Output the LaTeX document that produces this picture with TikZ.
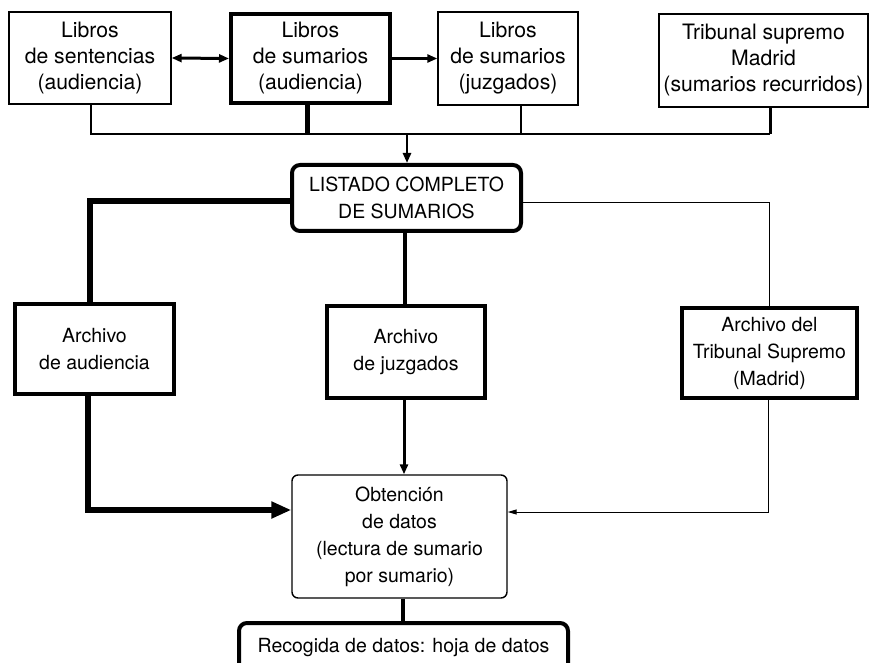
\documentclass[tikz,border=0pt]{standalone}
\usepackage{fontspec}
\setmainfont{TeX Gyre Heros}
\usetikzlibrary{arrows.meta}
\begin{document}
\begin{tikzpicture}[x=1pt,y=-1pt,
  txt/.style={align=center,font=\fontsize{19.5}{27}\selectfont,inner sep=0pt},
  toptxt/.style={font=\fontsize{21.2}{26}\selectfont},
  thinbox/.style={txt,draw,line width=1.4pt},
  thickbox/.style={txt,draw,line width=4pt},
  rthin/.style={thinbox,rounded corners=6pt},
  rthick/.style={thickbox,rounded corners=8pt},
  medarrow/.style={-{Triangle[length=10pt,width=8pt]}},
  bigarrow/.style={-{Triangle[length=20pt,width=16pt]}},
  smallarrow/.style={-{Triangle[length=9pt,width=5pt]}}
]
\useasboundingbox (0,0) rectangle (873,663);
% top row
\node[thinbox,toptxt,minimum width=162pt,minimum height=92pt] (B1) at (90,58) {Libros\\de sentencias\\(audiencia)};
\node[thickbox,toptxt,minimum width=159pt,minimum height=89pt] (B2) at (310.5,58.5) {Libros\\de sumarios\\(audiencia)};
\node[thinbox,toptxt,minimum width=140pt,minimum height=93pt] (B3) at (508,58.5) {Libros\\de sumarios\\(juzgados)};
\node[thinbox,toptxt,minimum width=209pt,minimum height=93pt] (B4) at (763.5,60.5) {Tribunal supremo\\Madrid\\(sumarios recurridos)};
% middle
\node[rthick,minimum width=229pt,minimum height=66pt] (L) at (406.5,198) {LISTADO COMPLETO\\DE SUMARIOS};
\node[thickbox,minimum width=159pt,minimum height=90pt] (AA) at (94.5,349) {Archivo\\de audiencia};
\node[thickbox,minimum width=158pt,minimum height=92pt] (AJ) at (406,352) {Archivo\\de juzgados};
\node[thickbox,minimum width=175pt,minimum height=90pt] (TS) at (769.5,353) {Archivo del\\Tribunal Supremo\\(Madrid)};
% bottom
\node[rthin,minimum width=215pt,minimum height=123pt] (O) at (399.5,536.5) {Obtenci\'on\\de datos\\(lectura de sumario\\por sumario)};
\node[rthick,minimum width=329pt,minimum height=50pt] (R) at (403.5,648) {Recogida de datos: hoja de datos};
% bus coordinates
\coordinate (j1) at (91,134);
\coordinate (j2) at (307,134);
\coordinate (j3) at (521,134);
\coordinate (j4) at (770,134);
\coordinate (jm) at (407,134);
\coordinate (cl) at (90,201);
\coordinate (cr) at (769,203);
\coordinate (ol) at (88,510);
\coordinate (or) at (768,512);
% arrows between top boxes
\draw[line width=3pt,{Triangle[length=10pt,width=8pt]}-{Triangle[length=10pt,width=8pt]}] (B1.east) -- (B2.west);
\draw[line width=3pt,medarrow] (B2.east) -- (B3.west);
% bus
\draw[line width=2.5pt] (j1 |- B1.south) -- (j1) -- (j4);
\draw[line width=5pt] (j2 |- B2.south) -- (j2);
\draw[line width=2.5pt] (j3 |- B3.south) -- (j3);
\draw[line width=3pt] (j4 |- B4.south) -- (j4);
\draw[line width=2.5pt,medarrow] (jm) -- (jm |- L.north);
% from listado
\draw[line width=6pt] (L.west |- cl) -- (cl) -- (cl |- AA.north);
\draw[line width=4.5pt] (L.south -| 405,0) -- (405,0 |- AJ.north);
\draw[line width=1pt] (L.east |- cr) -- (cr) -- (cr |- TS.north);
% to obtencion
\draw[line width=3pt,medarrow] (AJ.south -| 404,0) -- (404,0 |- O.north);
\draw[line width=6pt,bigarrow] (ol |- AA.south) -- (ol) -- (ol -| O.west);
\draw[line width=1pt,smallarrow] (or |- TS.south) -- (or) -- (or -| O.east);
\draw[line width=4pt] (O.south -| 403,0) -- (403,0 |- R.north);
\end{tikzpicture}
\end{document}
